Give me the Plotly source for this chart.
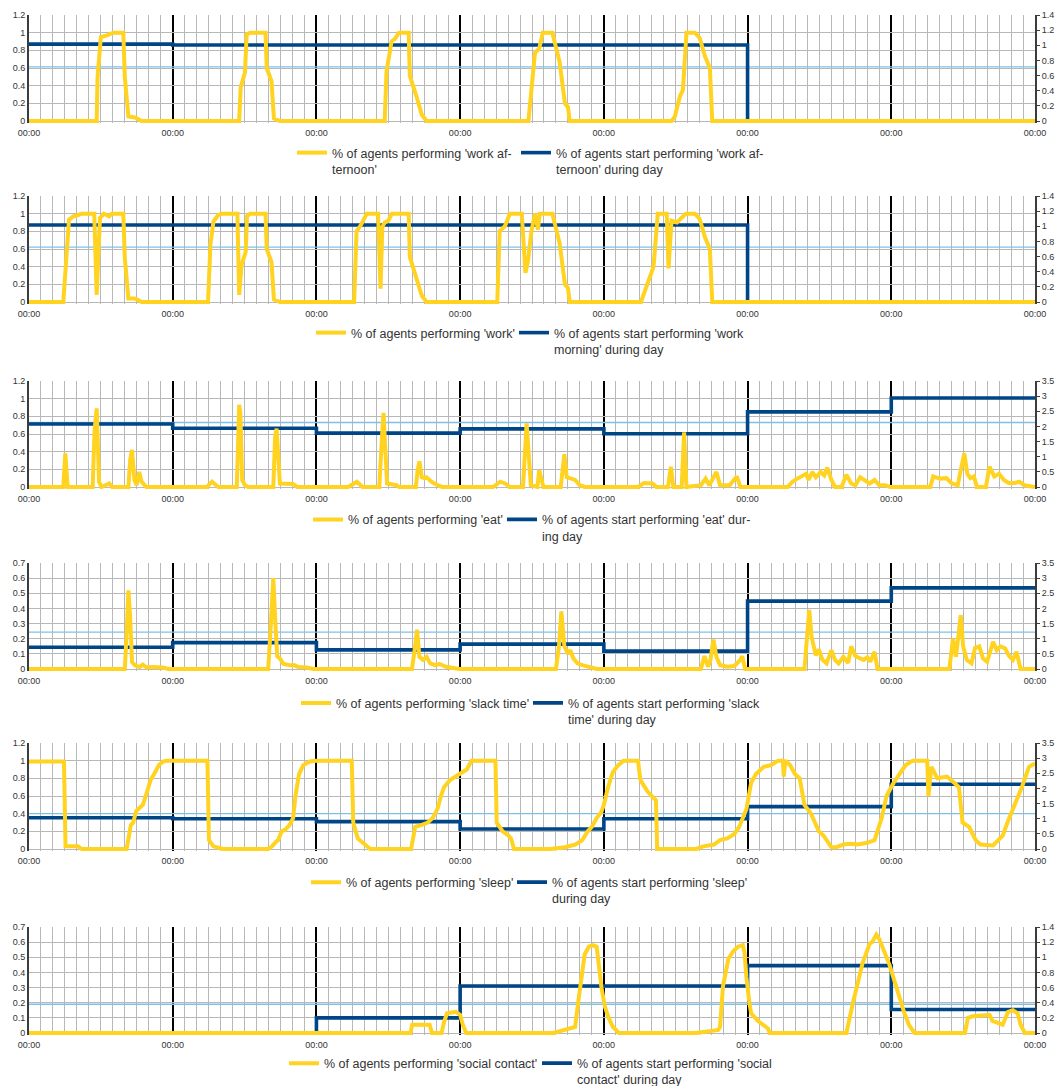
import plotly.graph_objects as go

# ---------------- data ----------------
day_edges = [0, 24, 48, 72, 96, 120, 144, 168]
x_tick_vals = [0, 24, 48, 72, 96, 120, 144, 168]
x_tick_labels = ["00:00", "00:00", "00:00", "00:00", "00:00", "00:00", "00:00", "00:00"]

# panel 1: work afternoon
work_afternoon_h = [0, 11.3, 11.45, 12.0, 13.0, 13.5, 14.1, 15.75, 16.0, 16.6, 17.7, 18.8,
                    35.1, 35.35, 36.06, 36.35, 36.9, 39.5, 39.7, 40.5, 40.9, 41.9,
                    59.4, 59.7, 60.55, 61.1, 61.8, 63.4, 63.6, 64.7, 65.6, 66.4,
                    83.4, 83.9, 84.5, 85.2, 85.8, 87.4, 88.6, 89.5, 90.0, 90.3,
                    107.3, 107.85, 108.7, 109.2, 109.8, 111.2, 112.0, 112.9, 113.7, 114.1,
                    168]
work_afternoon_v = [0, 0, 0.5, 0.95, 0.97, 0.98, 1.0, 1.0, 0.5, 0.05, 0.04, 0,
                    0, 0.38, 0.55, 0.98, 1.0, 1.0, 0.6, 0.45, 0.03, 0,
                    0, 0.56, 0.9, 0.93, 1.0, 1.0, 0.51, 0.28, 0.07, 0,
                    0, 0.35, 0.77, 0.82, 1.0, 1.0, 0.67, 0.2, 0.16, 0,
                    0, 0.05, 0.28, 0.35, 1.0, 1.0, 0.94, 0.73, 0.6, 0,
                    0]
work_afternoon_start = [1.015, 1.003, 1.003, 1.003, 1.003, 0, 0]
work_afternoon_mean = 0.716

# panel 2: work
work_h = [0, 5.73, 6.68, 7.4, 8.2, 8.8, 10.9, 11.3, 11.85, 12.5, 13.4, 13.8, 15.75, 16.0, 16.6, 17.7, 18.8,
          29.9, 30.3, 30.8, 31.6, 32.2, 34.8, 35.1, 35.5, 36.2, 36.4, 36.9, 39.5, 39.7, 40.5, 40.9, 41.9,
          54.3, 54.7, 55.5, 56.4, 58.3, 58.7, 59.0, 59.4, 60.0, 60.6, 61.8, 63.4, 63.6, 64.7, 65.6, 66.4,
          78.2, 78.6, 79.5, 80.3, 82.3, 82.9, 83.3, 83.9, 84.5, 85.0, 85.3, 85.8, 87.4, 88.6, 89.5, 90.0, 90.3,
          102.2, 102.8, 103.8, 104.3, 105.0, 106.5, 106.8, 107.3, 108.2, 109.0, 109.7, 111.2, 112.0, 112.9, 113.7, 114.1,
          168]
work_v = [0, 0, 0.93, 0.97, 0.985, 1.0, 1.0, 0.08, 0.95, 1.0, 0.97, 1.0, 1.0, 0.5, 0.04, 0.04, 0,
          0, 0.65, 0.91, 0.985, 1.0, 1.0, 0.08, 0.42, 0.57, 0.97, 1.0, 1.0, 0.6, 0.45, 0.03, 0,
          0, 0.8, 0.88, 1.0, 1.0, 0.15, 0.85, 0.9, 0.92, 1.0, 1.0, 1.0, 0.51, 0.28, 0.07, 0,
          0, 0.8, 0.86, 1.0, 1.0, 0.33, 0.45, 0.8, 1.0, 0.82, 1.0, 1.0, 1.0, 0.67, 0.2, 0.16, 0,
          0, 0.12, 0.3, 0.4, 1.0, 1.0, 0.38, 0.92, 0.9, 0.96, 1.0, 1.0, 0.94, 0.73, 0.6, 0,
          0]
work_start = [1.017, 1.017, 1.017, 1.017, 1.017, 0, 0]
work_mean = 0.726

# panel 3: eat
eat_h = [0, 5.73, 6.06, 6.46, 10.63, 10.96, 11.3, 11.7, 12.1, 12.9, 13.4, 13.9, 16.6, 16.9, 17.2, 17.6, 17.98, 18.4, 18.8, 19.6,
         29.7, 30.55, 31.6, 34.7, 34.9, 35.1, 35.3, 35.6, 36.06, 36.6, 40.8, 41.1, 41.35, 41.9, 44.1, 44.8,
         53.3, 54.75, 55.7, 58.5, 58.95, 59.2, 59.8, 61.4, 61.8, 64.6, 64.9, 65.2, 65.6, 66.05, 66.4, 67.2, 68.2, 69.0,
         77.5, 78.7, 79.5, 80.3, 82.5, 82.8, 83.1, 83.8, 84.9, 85.2, 85.9, 88.8, 89.1, 89.4, 89.8, 90.4, 91.2, 92.0, 92.8,
         101.7, 102.7, 104.1, 104.8, 106.7, 107.2, 107.6, 109.0, 109.4, 109.8, 112.2, 113.0, 113.6, 114.8, 115.4, 117.0, 118.2, 118.8,
         126.7, 127.5, 128.3, 129.1, 129.8, 130.2, 130.8, 131.4, 132.2, 132.8, 133.3, 134.0, 134.6, 135.7, 136.5, 137.3, 138.0,
         138.8, 139.6, 140.4, 141.2, 142.0, 143.0, 143.8,
         150.5, 151.0, 152.1, 153.2, 154.1, 155.1, 155.6, 156.2, 156.7, 157.2, 157.8, 158.3, 159.8, 160.4, 161.2, 162.0,
         162.8, 163.6, 164.6, 165.4, 166.2, 167.4, 168]
eat_v = [0, 0, 0.38, 0, 0, 0.65, 0.89, 0.06, 0, 0.02, 0.04, 0, 0, 0.31, 0.42, 0.08, 0.02, 0.17, 0.06, 0,
         0, 0.06, 0, 0, 0.76, 0.93, 0.83, 0.08, 0.02, 0, 0, 0.57, 0.66, 0.04, 0.035, 0,
         0, 0.06, 0, 0, 0.57, 0.84, 0.04, 0.02, 0, 0, 0.19, 0.29, 0.11, 0.1, 0.11, 0.06, 0.02, 0,
         0, 0.06, 0.04, 0, 0, 0.38, 0.72, 0.02, 0, 0.19, 0, 0, 0.23, 0.37, 0.11, 0.1, 0.08, 0.02, 0,
         0, 0.045, 0.04, 0, 0, 0.23, 0, 0, 0.62, 0, 0.02, 0.095, 0.02, 0.17, 0.02, 0.02, 0.12, 0,
         0, 0.06, 0.095, 0.12, 0.15, 0.08, 0.17, 0.11, 0.17, 0.13, 0.22, 0.08, 0, 0, 0.14, 0.04, 0.02,
         0.11, 0.08, 0.04, 0.08, 0.02, 0.02, 0,
         0, 0.12, 0.095, 0.1, 0.04, 0.02, 0.19, 0.38, 0.15, 0.1, 0.12, 0, 0, 0.23, 0.12, 0.15,
         0.08, 0.045, 0.045, 0.06, 0.02, 0, 0]
eat_start = [2.08, 1.94, 1.78, 1.92, 1.76, 2.48, 2.94]
eat_mean = 2.13

# panel 4: slack time
slack_h = [0, 16.0, 16.3, 16.6, 16.9, 17.2, 17.7, 18.5, 19.0, 19.65, 20.75, 22.4, 23.26,
           39.95, 40.3, 40.8, 41.1, 41.45, 41.9, 42.45, 43.6, 44.4, 44.96, 46.4, 47.5,
           63.96, 64.4, 64.8, 65.2, 65.8, 66.4, 67.0, 67.8, 68.6, 69.6, 70.9, 71.9,
           88.0, 88.5, 88.9, 89.4, 90.0, 90.4, 90.9, 91.6, 92.4, 93.6, 94.8,
           112.2, 112.8, 113.4, 113.8, 114.3, 114.8, 115.4, 116.6, 117.8, 118.8, 119.1, 119.6,
           129.5, 129.9, 130.3, 130.7, 131.4, 131.9, 132.5, 133.2, 134.0, 134.6, 135.2, 136.0, 136.8, 137.3,
           138.0, 138.8, 139.4, 140.0, 140.5, 141.2, 141.7,
           153.7, 154.3, 154.8, 155.2, 155.6, 156.0, 156.6, 157.4, 158.0, 158.7, 159.3, 160.0, 161.0, 161.6,
           162.2, 163.0, 163.6, 164.3, 164.9, 165.6, 168]
slack_v = [0, 0, 0.23, 0.52, 0.34, 0.046, 0.024, 0.013, 0.03, 0.01, 0.013, 0.01, 0,
           0, 0.23, 0.6, 0.34, 0.084, 0.07, 0.035, 0.024, 0.024, 0.013, 0.01, 0,
           0, 0.125, 0.26, 0.08, 0.06, 0.08, 0.037, 0.026, 0.033, 0.015, 0.01, 0,
           0, 0.15, 0.38, 0.15, 0.1, 0.125, 0.07, 0.037, 0.026, 0.015, 0,
           0, 0.085, 0.015, 0.06, 0.195, 0.08, 0.026, 0.015, 0.02, 0.06, 0.085, 0,
           0, 0.21, 0.39, 0.21, 0.09, 0.13, 0.06, 0.037, 0.125, 0.06, 0.037, 0.08, 0.04, 0.15,
           0.085, 0.07, 0.06, 0.077, 0.048, 0.114, 0,
           0, 0.2, 0.08, 0.21, 0.355, 0.15, 0.06, 0.037, 0.14, 0.15, 0.07, 0.048, 0.18, 0.125,
           0.15, 0.136, 0.09, 0.06, 0.114, 0, 0]
slack_start = [0.72, 0.87, 0.63, 0.82, 0.59, 2.24, 2.68]
slack_mean = 1.22

# panel 5: sleep
sleep_h = [0, 5.84, 6.1, 8.2, 8.8, 16.3, 17.0, 17.4, 17.9, 19.0, 19.5, 20.3, 20.9, 21.7, 22.4, 23.0,
           29.8, 30.05, 30.8, 31.6, 32.4, 39.95, 40.6, 41.2, 41.6, 42.2, 42.8, 43.5, 44.1, 44.5, 45.1, 45.8, 46.9, 48.0,
           53.9, 54.15, 54.9, 56.1, 56.5, 57.0, 63.8, 64.5, 65.5, 66.6, 67.4, 68.2, 68.8, 69.3, 70.3, 71.2, 72.0, 73.1, 73.9,
           77.9, 78.1, 79.1, 80.1, 80.5, 81.0, 87.1, 89.5, 91.2, 92.4, 93.3, 94.0, 94.8, 95.6, 96.0, 96.7, 97.5, 98.4, 99.3,
           101.7, 102.1, 103.3, 104.1, 104.7, 104.9, 111.4, 112.6, 114.4, 115.4, 116.6, 117.8, 118.6, 119.2, 119.8, 120.6,
           121.4, 122.7, 123.9, 125.1, 125.9, 126.05, 126.3, 127.1, 127.9, 128.7, 129.5, 130.6, 131.1, 131.9, 132.7, 134.0,
           134.8, 136.0, 137.2, 138.4, 140.0, 141.2, 142.4, 143.2, 144.4, 145.6, 146.4, 147.6, 150.0, 150.2, 150.7, 151.7,
           153.3, 154.5, 155.3, 155.9, 157.0, 158.1, 158.9, 161.0, 162.6, 163.4, 164.6, 165.8, 167.0, 168.0]
sleep_v = [0.99, 0.99, 0.03, 0.03, 0, 0, 0.27, 0.3, 0.43, 0.5, 0.6, 0.78, 0.85, 0.95, 0.99, 1.0,
           1.0, 0.1, 0.03, 0.01, 0, 0, 0.03, 0.08, 0.1, 0.2, 0.22, 0.27, 0.35, 0.6, 0.85, 0.95, 0.99, 1.0,
           1.0, 0.3, 0.12, 0.05, 0.03, 0, 0, 0.25, 0.27, 0.3, 0.35, 0.45, 0.6, 0.7, 0.78, 0.82, 0.85, 0.9, 1.0,
           1.0, 0.3, 0.2, 0.15, 0.12, 0, 0, 0.02, 0.05, 0.1, 0.2, 0.25, 0.35, 0.42, 0.5, 0.7, 0.87, 0.95, 1.0,
           1.0, 0.78, 0.65, 0.59, 0.55, 0, 0, 0.03, 0.05, 0.1, 0.12, 0.17, 0.25, 0.35, 0.45, 0.75,
           0.85, 0.93, 0.95, 1.0, 1.0, 0.82, 1.0, 0.95, 0.85, 0.8, 0.5, 0.4, 0.33, 0.2, 0.15, 0.02,
           0.02, 0.05, 0.06, 0.05, 0.07, 0.1, 0.35, 0.6, 0.75, 0.88, 0.95, 1.0, 1.0, 0.6, 0.93, 0.8,
           0.82, 0.75, 0.7, 0.3, 0.25, 0.1, 0.05, 0.04, 0.15, 0.3, 0.5, 0.7, 0.93, 0.97]
sleep_start = [1.03, 1.0, 0.905, 0.66, 1.0, 1.40, 2.14]
sleep_mean = 1.165

# panel 6: social contact
social_h = [0, 63.7, 64.0, 66.9, 67.3, 68.9, 69.3, 69.8, 71.3, 72.0, 72.4, 73.0,
            87.6, 89.5, 90.5, 91.2, 91.7, 92.3, 92.8, 93.5, 94.2, 94.8, 95.1, 95.6, 96.2, 96.8, 97.5, 98.5,
            111.4, 113.5, 115.1, 115.4, 115.9, 116.8, 117.6, 118.4, 119.2, 119.5, 119.8, 120.3, 120.6, 121.7, 123.4, 123.7,
            136.5, 137.6, 139.2, 140.4, 140.8, 141.5, 142.0, 143.7, 144.8, 146.2, 147.0, 147.9,
            156.3, 156.8, 157.6, 158.7, 160.4, 160.9, 161.8, 162.6, 163.5, 164.3, 165.1, 165.6, 166.3, 168]
social_v = [0, 0, 0.055, 0.055, 0, 0, 0.07, 0.13, 0.14, 0.12, 0.06, 0,
            0, 0.02, 0.03, 0.04, 0.2, 0.4, 0.52, 0.57, 0.58, 0.57, 0.45, 0.3, 0.17, 0.1, 0.04, 0,
            0, 0.01, 0.02, 0.04, 0.31, 0.49, 0.54, 0.57, 0.58, 0.53, 0.37, 0.2, 0.13, 0.08, 0.03, 0,
            0, 0.2, 0.46, 0.59, 0.6, 0.65, 0.62, 0.45, 0.3, 0.13, 0.05, 0,
            0, 0.1, 0.11, 0.115, 0.12, 0.08, 0.066, 0.055, 0.14, 0.15, 0.13, 0.055, 0, 0]
social_start = [0, 0, 0.2, 0.62, 0.62, 0.89, 0.31]
social_mean = 0.38

# legend labels
names_perf = ["% of agents performing 'work af-<br>ternoon'",
              "% of agents performing 'work'",
              "% of agents performing 'eat'",
              "% of agents performing 'slack time'",
              "% of agents performing 'sleep'",
              "% of agents performing 'social contact'"]
names_start = ["% of agents start performing 'work af-<br>ternoon' during day",
               "% of agents start performing 'work<br>morning' during day",
               "% of agents start performing 'eat' dur-<br>ing day",
               "% of agents start performing 'slack<br>time' during day",
               "% of agents start performing 'sleep'<br>during day",
               "% of agents start performing 'social<br>contact' during day"]

perf_h = [work_afternoon_h, work_h, eat_h, slack_h, sleep_h, social_h]
perf_v = [work_afternoon_v, work_v, eat_v, slack_v, sleep_v, social_v]
start_v = [work_afternoon_start, work_start, eat_start, slack_start, sleep_start, social_start]
means = [work_afternoon_mean, work_mean, eat_mean, slack_mean, sleep_mean, social_mean]
left_max = [1.2, 1.2, 1.2, 0.7, 1.2, 0.7]
left_dtick = [0.2, 0.2, 0.2, 0.1, 0.2, 0.1]
right_max = [1.4, 1.4, 3.5, 3.5, 3.5, 1.4]
right_dtick = [0.2, 0.2, 0.5, 0.5, 0.5, 0.2]

# ---------------- layout geometry ----------------
W, H = 1057, 1086
PL, PR = 29, 1035
tops = [15, 196, 381, 563, 743, 927]
PH = 106
EXT = 2
leg_text_x_perf = [332, 351, 348, 336, 346, 324]    # px where legend text starts
leg_text_x_start = [556, 554, 542, 568, 552, 577]
leg_line_off = [32, 31, 32.8, 34.3, 33.5, 30.5]    # px below plot bottom of first legend line
FONT = "Liberation Sans, Arial, sans-serif"
YELLOW = "#ffd320"
BLUE = "#004586"
LIGHT = "#7fc0ea"
GRID = "#b8b8b8"
AXIS = "#3c3c3c"

fig = go.Figure()
layout = dict(width=W, height=H, margin=dict(l=0, r=0, t=0, b=0, autoexpand=False),
              paper_bgcolor="white", plot_bgcolor="white",
              font=dict(family=FONT, size=9, color="#333"))


def legend_box(text_x, y_px):
    return dict(orientation="h", x=(text_x - 40) / W, xanchor="left",
                y=1 - y_px / H, yanchor="top", valign="top",
                font=dict(family=FONT, size=12.5, color="#333"),
                bgcolor="rgba(0,0,0,0)", itemwidth=30)


for i in range(6):
    xn = "x" if i == 0 else f"x{i+1}"
    xkey = "xaxis" if i == 0 else f"xaxis{i+1}"
    ym = f"y{2*i+1}" if i > 0 else "y"
    ymkey = "yaxis" if i == 0 else f"yaxis{2*i+1}"
    yo = f"y{2*i+2}"
    yokey = f"yaxis{2*i+2}"
    lg_perf = "legend" if i == 0 else f"legend{2*i+1}"
    lg_start = f"legend{2*i+2}"
    top = tops[i]
    bot = top + PH
    dom = [1 - (bot + EXT) / H, 1 - top / H]

    fig.add_trace(go.Scatter(x=[day_edges[0], day_edges[-1]], y=[means[i], means[i]],
                             mode="lines", line=dict(color=LIGHT, width=1.3),
                             xaxis=xn, yaxis=ym, showlegend=False, hoverinfo="skip"))
    fig.add_trace(go.Scatter(x=day_edges, y=start_v[i] + [start_v[i][-1]], mode="lines",
                             line=dict(color=BLUE, width=3.6, shape="hv"),
                             name=names_start[i], legend=lg_start,
                             xaxis=xn, yaxis=ym))
    fig.add_trace(go.Scatter(x=perf_h[i], y=perf_v[i], mode="lines",
                             line=dict(color=YELLOW, width=4),
                             name=names_perf[i], legend=lg_perf,
                             xaxis=xn, yaxis=yo))

    layout[xkey] = dict(domain=[PL / W, PR / W], anchor=ym, range=[0, 168], automargin=False,
                        tickmode="array", tickvals=x_tick_vals, ticktext=x_tick_labels,
                        showgrid=True, gridcolor="#000000", gridwidth=2.4,
                        zeroline=False, showline=False,
                        ticks="outside", ticklen=1, tickcolor="rgba(0,0,0,0)",
                        tickfont=dict(size=9, color="#333"),
                        minor=dict(tickmode="linear", tick0=0, dtick=2, showgrid=True,
                                   gridcolor=GRID, gridwidth=1, ticks=""))
    rm = right_max[i]
    lm = left_max[i]
    layout[ymkey] = dict(domain=dom, anchor=xn, side="right", automargin=False,
                         range=[-rm * EXT / PH, rm], tickmode="linear", tick0=0, dtick=right_dtick[i],
                         showgrid=False, zeroline=False, showline=True, linecolor=AXIS, linewidth=2,
                         ticks="outside", ticklen=3, tickcolor=AXIS, tickwidth=1,
                         tickfont=dict(size=9, color="#333"))
    layout[yokey] = dict(domain=dom, anchor=xn, overlaying=ym, side="left", automargin=False,
                         range=[-lm * EXT / PH, lm], tickmode="linear", tick0=0, dtick=left_dtick[i],
                         showgrid=True, gridcolor=GRID, gridwidth=1, zeroline=False,
                         showline=True, linecolor=AXIS, linewidth=2,
                         ticks="", tickfont=dict(size=9, color="#333"))
    y_top = bot + leg_line_off[i] - 15
    layout[lg_perf] = legend_box(leg_text_x_perf[i], y_top)
    layout[lg_start] = legend_box(leg_text_x_start[i], y_top)

fig.update_layout(**layout)
fig.write_html("out.html")
